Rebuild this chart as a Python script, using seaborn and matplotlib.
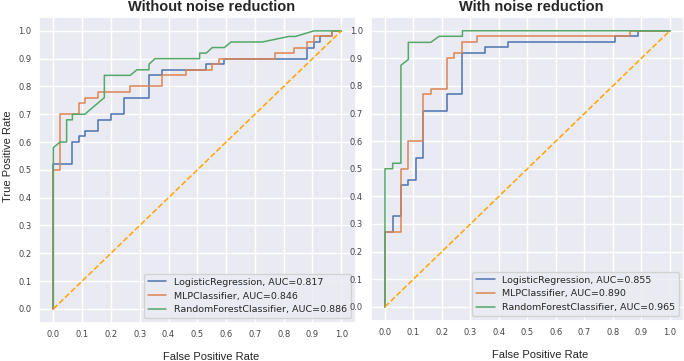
import numpy as np
import pandas as pd
import matplotlib
matplotlib.use("Agg")
import matplotlib.pyplot as plt
import seaborn as sns

models = ["LogisticRegression", "MLPClassifier", "RandomForestClassifier"]

# without noise reduction
auc_raw = [0.817, 0.846, 0.886]
lr_fpr_raw = [0, 0, 0.066, 0.066, 0.089, 0.089, 0.109, 0.109, 0.154, 0.154, 0.2, 0.2, 0.244, 0.244,
              0.332, 0.332, 0.376, 0.376, 0.531, 0.531, 0.594, 0.594, 0.88, 0.88, 0.905, 0.905,
              0.925, 0.925, 0.968, 0.968, 1.0]
lr_tpr_raw = [0, 0.52, 0.52, 0.60, 0.60, 0.62, 0.62, 0.64, 0.64, 0.68, 0.68, 0.70, 0.70, 0.76, 0.76,
              0.84, 0.84, 0.86, 0.86, 0.88, 0.88, 0.90, 0.90, 0.94, 0.94, 0.96, 0.96, 0.98, 0.98, 1.0, 1.0]
mlp_fpr_raw = [0, 0, 0.023, 0.023, 0.089, 0.089, 0.109, 0.109, 0.154, 0.154, 0.267, 0.267, 0.376, 0.376,
               0.462, 0.462, 0.552, 0.552, 0.574, 0.574, 0.77, 0.77, 0.836, 0.836, 0.88, 0.88,
               0.905, 0.905, 0.968, 0.968, 1.0]
mlp_tpr_raw = [0, 0.50, 0.50, 0.70, 0.70, 0.74, 0.74, 0.76, 0.76, 0.78, 0.78, 0.80, 0.80, 0.84, 0.84,
               0.86, 0.86, 0.88, 0.88, 0.90, 0.90, 0.92, 0.92, 0.94, 0.94, 0.96, 0.96, 0.98, 0.98, 1.0, 1.0]
rf_fpr_raw = [0, 0, 0.023, 0.046, 0.046, 0.066, 0.066, 0.109, 0.177, 0.177, 0.267, 0.29, 0.332, 0.332,
              0.353, 0.508, 0.508, 0.531, 0.552, 0.594, 0.617, 0.726, 0.818, 0.841, 0.905, 1.0]
rf_tpr_raw = [0, 0.58, 0.60, 0.60, 0.68, 0.68, 0.70, 0.70, 0.76, 0.84, 0.84, 0.86, 0.86, 0.88,
              0.90, 0.90, 0.92, 0.92, 0.94, 0.94, 0.96, 0.96, 0.98, 0.98, 1.0, 1.0]

# with noise reduction
auc_nr = [0.855, 0.890, 0.965]
lr_fpr_nr = [0, 0, 0.027, 0.027, 0.056, 0.056, 0.082, 0.082, 0.108, 0.108, 0.135, 0.135, 0.219, 0.219,
             0.272, 0.272, 0.353, 0.353, 0.432, 0.432, 0.808, 0.808, 0.89, 0.89, 1.0]
lr_tpr_nr = [0, 0.27, 0.27, 0.33, 0.33, 0.44, 0.44, 0.46, 0.46, 0.54, 0.54, 0.71, 0.71, 0.77,
             0.77, 0.92, 0.92, 0.94, 0.94, 0.96, 0.96, 0.98, 0.98, 1.0, 1.0]
mlp_fpr_nr = [0, 0, 0.056, 0.056, 0.082, 0.082, 0.135, 0.135, 0.161, 0.161, 0.219, 0.219, 0.242, 0.242,
              0.272, 0.272, 0.324, 0.324, 0.86, 0.86, 1.0]
mlp_tpr_nr = [0, 0.27, 0.27, 0.50, 0.50, 0.60, 0.60, 0.77, 0.77, 0.79, 0.79, 0.90, 0.90, 0.92,
              0.92, 0.96, 0.96, 0.98, 0.98, 1.0, 1.0]
rf_fpr_nr = [0, 0, 0.027, 0.027, 0.056, 0.056, 0.082, 0.082, 0.161, 0.19, 0.272, 0.272, 1.0]
rf_tpr_nr = [0, 0.50, 0.50, 0.52, 0.52, 0.875, 0.896, 0.958, 0.958, 0.98, 0.98, 1.0, 1.0]

ticks = [0.0, 0.1, 0.2, 0.3, 0.4, 0.5, 0.6, 0.7, 0.8, 0.9, 1.0]

sns.set_theme(style="darkgrid")
plt.rcParams["font.family"] = ["DejaVu Sans"]

fig = plt.figure(figsize=(6.84, 3.61), dpi=100)
ax1 = fig.add_axes([0.057, 0.106, 0.463, 0.847])
ax2 = fig.add_axes([0.542, 0.112, 0.458, 0.841])
colors = sns.color_palette("deep")

# (axes, title, aucs, curves, title x, xlabel x)
panels = [
    (ax1, "Without noise reduction", auc_raw,
     [(lr_fpr_raw, lr_tpr_raw), (mlp_fpr_raw, mlp_tpr_raw), (rf_fpr_raw, rf_tpr_raw)], 0.545, 0.545),
    (ax2, "With noise reduction", auc_nr,
     [(lr_fpr_nr, lr_tpr_nr), (mlp_fpr_nr, mlp_tpr_nr), (rf_fpr_nr, rf_tpr_nr)], 0.514, 0.54),
]

for ax, title, aucs, curves, tx, lx in panels:
    for i, (fpr, tpr) in enumerate(curves):
        df = pd.DataFrame({"fpr": fpr, "tpr": tpr})
        sns.lineplot(data=df, x="fpr", y="tpr", sort=False, estimator=None, ax=ax,
                     color=colors[i], linewidth=1.1,
                     label=f"{models[i]}, AUC={aucs[i]:.3f}")
    ax.plot([0, 1], [0, 1], color="orange", linestyle="--", linewidth=1.1)
    ax.set_xlim(-0.05, 1.05)
    ax.set_ylim(-0.05, 1.05)
    ax.set_xticks(ticks)
    ax.set_yticks(ticks)
    ax.tick_params(labelsize=6, length=0, pad=5.5, labelcolor="#444444")
    ax.set_title(title, fontsize=10.5, fontweight="bold", family="Liberation Sans", x=tx, pad=4)
    ax.set_xlabel("False Positive Rate", fontsize=8, family="Liberation Sans", labelpad=9, x=lx)
    ax.set_ylabel("")
    ax.legend(loc="lower right", fontsize=6.8)

ax1.set_ylabel("True Positive Rate", fontsize=8, family="Liberation Sans", labelpad=4, y=0.545)

fig.savefig("out.png", dpi=100)
